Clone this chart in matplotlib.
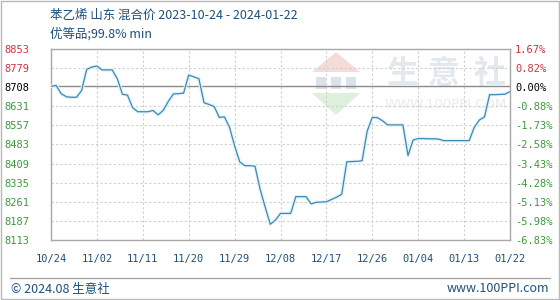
import matplotlib
matplotlib.use("Agg")
import matplotlib.pyplot as plt
import numpy as np
import pandas as pd
from matplotlib.patches import Polygon, Rectangle

plt.rcParams['font.family'] = ['Noto Sans CJK SC', 'DejaVu Sans']

# ---------------- data ----------------
start_date = "2023-10-24"
end_date = "2024-01-22"
prices = [
    8708, 8712, 8680, 8668, 8666, 8666, 8692, 8774, 8783, 8787,
    8772, 8772, 8772, 8738, 8678, 8674, 8626, 8610, 8610, 8610,
    8615, 8598, 8615, 8650, 8679, 8680, 8682, 8752, 8745, 8738,
    8645, 8638, 8630, 8588, 8590, 8550, 8478, 8416, 8401, 8401,
    8399, 8310, 8240, 8174, 8190, 8216, 8216, 8216, 8281, 8281,
    8281, 8253, 8259, 8260, 8261, 8270, 8279, 8290, 8416, 8417,
    8418, 8420, 8535, 8588, 8587, 8575, 8559, 8559, 8559, 8559,
    8440, 8500, 8506, 8506, 8505, 8505, 8504, 8498, 8498, 8498,
    8498, 8498, 8498, 8550, 8578, 8590, 8676, 8676, 8677, 8678,
    8688,
]
base_price = 8708
y_min, y_max = 8113, 8853
left_labels = ["8113", "8187", "8261", "8335", "8409", "8483", "8557",
               "8631", "8708", "8779", "8853"]
right_labels = ["-6.83%", "-5.98%", "-5.13%", "-4.28%", "-3.43%", "-2.58%",
                "-1.73%", "-0.88%", "0.00%", "0.82%", "1.67%"]
x_tick_labels = ["10/24", "11/02", "11/11", "11/20", "11/29", "12/08",
                 "12/17", "12/26", "01/04", "01/13", "01/22"]
tick_step_days = 9
title_line1 = "苯乙烯 山东 混合价 2023-10-24 - 2024-01-22"
title_line2 = "优等品;99.8% min"
footer_left = "© 2024.08 生意社"
footer_right = "www.100PPI.com"

dates = pd.date_range(start_date, end_date, freq="D")

# ---------------- figure ----------------
W, H = 560, 300
fig = plt.figure(figsize=(W / 100, H / 100), dpi=100, facecolor="white")

# decoration layer (pixel coordinates)
deco = fig.add_axes([0, 0, 1, 1], zorder=0)
deco.set_xlim(0, W)
deco.set_ylim(H, 0)
deco.axis("off")

# outer border
deco.add_patch(Rectangle((0.5, 0.5), W - 1.5, H - 1.5, fill=False,
                         edgecolor="#b8b8b8", lw=1))
# footer separator
deco.plot([10, 550], [278, 278], color="#a0a0a0", lw=0.9)

# watermark logo
deco.add_patch(Polygon([[312, 72], [336, 52], [360, 72]], closed=True,
                       facecolor="#f6dcd9", edgecolor="none"))
deco.add_patch(Polygon([[312, 93], [336, 115], [360, 93]], closed=True,
                       facecolor="#dcf0dc", edgecolor="none"))
for bx in (316, 331, 346):
    deco.add_patch(Rectangle((bx, 77), 10, 12, facecolor="#dde2ea",
                             edgecolor="none"))
for ch, cx in zip("生意社", (402, 444, 490)):
    deco.text(cx, 74, ch, fontsize=23, color="#e3e7ee", ha="center",
              va="center", fontweight="bold")
deco.text(446, 105, "WWW.100PPI.COM", fontsize=9.5, color="#e8ebef",
          ha="center", va="center", family="DejaVu Sans")

# titles
title_color = "#1f4f7a"
deco.text(50, 15, title_line1, fontsize=9, color=title_color,
          ha="left", va="center")
deco.text(50, 34, title_line2, fontsize=9, color=title_color,
          ha="left", va="center")
deco.text(11, 289, footer_left, fontsize=9, color=title_color,
          ha="left", va="center")
deco.text(549, 289, footer_right, fontsize=9, color=title_color,
          ha="right", va="center")

# ---------------- main plot ----------------
ax_left, ax_right, ax_top, ax_bottom = 51, 510, 49, 240
ax = fig.add_axes([ax_left / W, 1 - ax_bottom / H,
                   (ax_right - ax_left) / W, (ax_bottom - ax_top) / H],
                  zorder=2)
ax.set_facecolor("none")

yticks = np.linspace(y_min, y_max, len(left_labels))
xticks = pd.date_range(start_date, end_date, freq=f"{tick_step_days}D")

ax.set_xlim(dates[0], dates[-1])
ax.set_ylim(y_min, y_max)

# grid
for i, yt in enumerate(yticks):
    if left_labels[i] == str(base_price):
        continue
    ax.axhline(yt, color="#cfcfcf", lw=0.8, ls=(0, (2, 2)), zorder=1)
for xt in xticks:
    ax.axvline(xt, color="#cfcfcf", lw=0.8, ls=(0, (2, 2)), zorder=1)
ax.axhline(base_price, color="#8a8a8a", lw=1.0, zorder=2)

# line with soft halo
ax.plot(dates, prices, color="#e2f3fa", lw=2.6, zorder=3,
        solid_joinstyle="round")
ax.plot(dates, prices, color="#3d89b3", lw=0.9, zorder=4)

for sp in ax.spines.values():
    sp.set_color("#a8a8a8")
    sp.set_linewidth(1.0)

def lab_color(lbl):
    v = float(lbl.rstrip("%"))
    if lbl.endswith("%"):
        return "#d0313e" if v > 0 else ("#000000" if v == 0 else "#3c9a3c")
    return "#d0313e" if v > base_price else ("#000000" if v == base_price else "#3c9a3c")

ax.set_yticks(yticks)
ax.set_yticklabels(left_labels, family="DejaVu Sans Mono", fontsize=7.5)
for t, lbl in zip(ax.get_yticklabels(), left_labels):
    t.set_color(lab_color(lbl))
ax.tick_params(axis="y", length=0, pad=15.5)

ax.set_xticks(xticks)
ax.set_xticklabels(x_tick_labels, family="DejaVu Sans Mono", fontsize=7.5,
                   color=title_color)
ax.tick_params(axis="x", length=0, pad=10)

ax2 = ax.twinx()
ax2.set_ylim(y_min, y_max)
ax2.set_yticks(yticks)
ax2.set_yticklabels(right_labels, family="DejaVu Sans Mono", fontsize=7.5)
for t, lbl in zip(ax2.get_yticklabels(), right_labels):
    t.set_color(lab_color(lbl))
ax2.tick_params(axis="y", length=0, pad=3.6)
for sp in ax2.spines.values():
    sp.set_visible(False)

fig.savefig("out.png", dpi=100, facecolor="white")
